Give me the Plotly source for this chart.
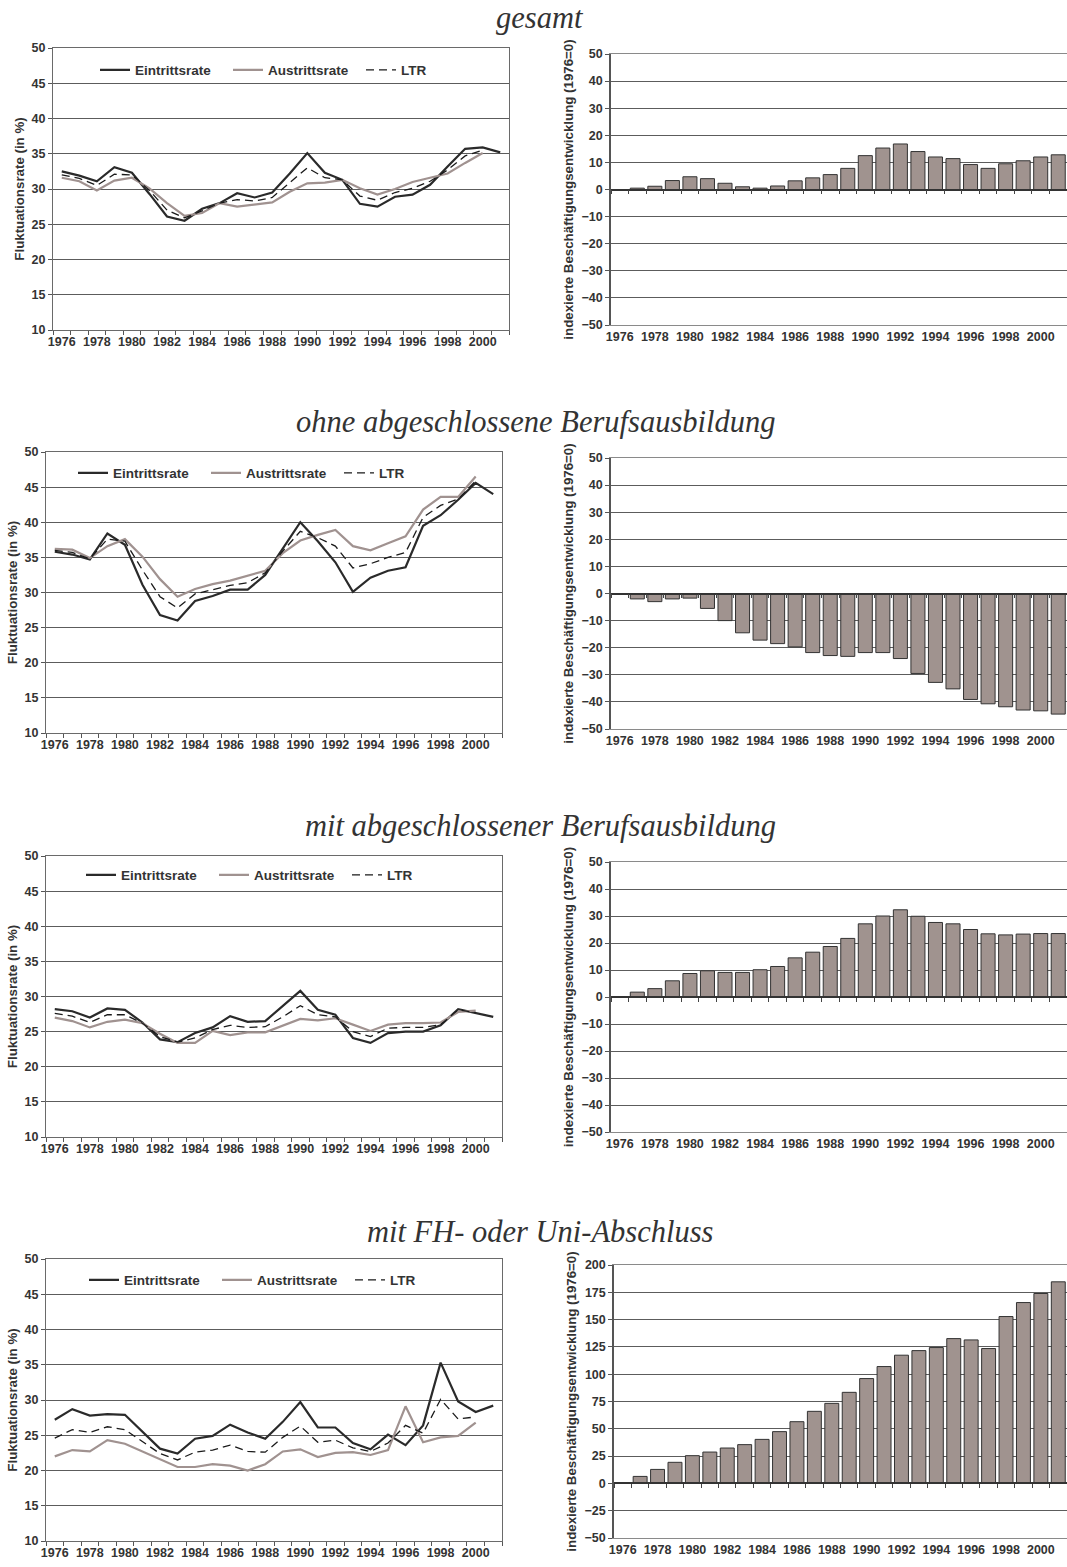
import plotly.graph_objects as go

W, H = 1067, 1567

years = list(range(1976, 2002))          # 26 categories
years_short = list(range(1976, 2001))    # 25 categories (Austritt / LTR)
tick_years = list(range(1976, 2001, 2))

panel_titles = [
    "gesamt",
    "ohne abgeschlossene Berufsausbildung",
    "mit abgeschlossener Berufsausbildung",
    "mit FH- oder Uni-Abschluss",
]

# ---------- gesamt ----------
ein_gesamt = [32.5, 31.9, 31.1, 33.1, 32.3, 29.3, 26.1, 25.5, 27.2, 28.0, 29.4, 28.8, 29.5,
              32.2, 35.1, 32.3, 31.3, 27.9, 27.5, 28.9, 29.2, 30.6, 33.2, 35.7, 35.9, 35.2]
aus_gesamt = [31.6, 31.1, 29.8, 31.2, 31.6, 30.1, 28.0, 26.2, 26.6, 28.0, 27.5, 27.8, 28.1,
              29.6, 30.8, 30.9, 31.3, 30.1, 29.2, 30.0, 31.0, 31.6, 32.2, 33.7, 35.1]
ltr_gesamt = [32.0, 31.5, 30.5, 32.1, 32.0, 29.8, 27.0, 25.9, 26.9, 28.0, 28.5, 28.3, 28.8,
              30.9, 33.0, 31.6, 31.3, 29.0, 28.4, 29.5, 30.1, 31.1, 32.7, 34.7, 35.5]
bes_gesamt = [0.0, 0.5, 1.2, 3.3, 4.7, 4.0, 2.3, 1.0, 0.5, 1.3, 3.2, 4.3, 5.5,
              7.8, 12.5, 15.3, 16.8, 14.0, 12.0, 11.4, 9.2, 7.8, 9.5, 10.6, 12.0, 12.8]

# ---------- ohne abgeschlossene Berufsausbildung ----------
ein_ohne = [35.8, 35.4, 34.7, 38.4, 36.8, 31.1, 26.8, 26.0, 28.8, 29.5, 30.4, 30.4, 32.5,
            36.3, 40.0, 37.3, 34.3, 30.1, 32.1, 33.1, 33.6, 39.5, 41.0, 43.2, 45.6, 44.0]
aus_ohne = [36.2, 36.1, 34.9, 36.6, 37.6, 35.1, 31.9, 29.4, 30.5, 31.2, 31.7, 32.4, 33.1,
            35.6, 37.4, 38.2, 38.9, 36.6, 36.0, 37.0, 38.0, 41.8, 43.6, 43.6, 46.5]
ltr_ohne = [36.0, 35.7, 34.8, 37.6, 37.3, 33.2, 29.4, 27.8, 29.8, 30.4, 31.0, 31.4, 32.8,
            35.9, 38.7, 37.8, 36.6, 33.5, 34.1, 35.0, 35.7, 40.7, 42.4, 43.3, 45.9]
bes_ohne = [0.0, -2.0, -3.0, -2.0, -1.7, -5.5, -10.0, -14.5, -17.2, -18.5, -19.7, -21.8, -22.9,
            -23.2, -21.8, -21.8, -24.0, -29.5, -32.8, -35.2, -39.1, -40.7, -41.8, -43.0, -43.3, -44.5]

# ---------- mit abgeschlossener Berufsausbildung ----------
ein_mit = [28.2, 27.9, 27.0, 28.3, 28.1, 26.3, 23.9, 23.5, 24.8, 25.6, 27.2, 26.4, 26.5,
           28.6, 30.8, 28.1, 27.4, 24.1, 23.4, 24.8, 25.0, 25.0, 25.9, 28.2, 27.6, 27.1]
aus_mit = [27.0, 26.5, 25.6, 26.4, 26.7, 26.2, 24.7, 23.4, 23.4, 25.1, 24.5, 24.9, 24.9,
           25.8, 26.8, 26.6, 26.9, 26.0, 25.1, 26.0, 26.2, 26.2, 26.3, 27.8, 28.0]
ltr_mit = [27.6, 27.2, 26.3, 27.4, 27.4, 26.2, 24.3, 23.5, 24.1, 25.3, 25.9, 25.6, 25.7,
           27.1, 28.7, 27.4, 27.1, 25.0, 24.3, 25.5, 25.6, 25.6, 26.0, 28.1, 27.7]
bes_mit = [0.0, 1.8, 3.1, 6.0, 8.7, 9.7, 9.1, 9.1, 10.1, 11.3, 14.5, 16.6, 18.7,
           21.7, 27.1, 30.0, 32.3, 29.9, 27.6, 27.1, 25.0, 23.4, 23.0, 23.3, 23.5, 23.5]

# ---------- mit FH- oder Uni-Abschluss ----------
ein_fh = [27.2, 28.7, 27.8, 28.0, 27.9, 25.5, 23.1, 22.4, 24.5, 24.9, 26.5, 25.4, 24.5,
          26.9, 29.7, 26.1, 26.1, 23.9, 23.0, 25.1, 23.6, 26.4, 35.3, 29.8, 28.3, 29.2]
aus_fh = [22.0, 22.9, 22.7, 24.3, 23.8, 22.7, 21.7, 20.5, 20.5, 20.9, 20.7, 20.0, 20.9,
          22.7, 23.0, 21.9, 22.5, 22.6, 22.2, 22.9, 29.1, 24.0, 24.7, 24.9, 26.8]
ltr_fh = [24.6, 25.8, 25.4, 26.2, 25.8, 24.1, 22.4, 21.5, 22.6, 22.9, 23.6, 22.7, 22.6,
          24.7, 26.3, 24.0, 24.3, 23.2, 22.7, 23.9, 26.4, 25.3, 30.1, 27.3, 27.6]
bes_fh = [0.0, 6.4, 12.8, 19.3, 25.4, 28.7, 32.4, 35.5, 40.3, 47.4, 56.5, 66.0, 73.3,
          83.4, 96.0, 107.0, 117.4, 121.6, 124.4, 132.6, 131.4, 123.5, 152.8, 165.6, 173.9, 184.6]

ein_all = [ein_gesamt, ein_ohne, ein_mit, ein_fh]
aus_all = [aus_gesamt, aus_ohne, aus_mit, aus_fh]
ltr_all = [ltr_gesamt, ltr_ohne, ltr_mit, ltr_fh]
bes_all = [bes_gesamt, bes_ohne, bes_mit, bes_fh]

left_range = [10, 50]
right_ranges = [[-50, 50], [-50, 50], [-50, 50], [-50, 200]]
right_dticks = [10, 10, 10, 25]

series_names = ["Eintrittsrate", "Austrittsrate", "LTR"]
left_title = "Fluktuationsrate (in %)"
right_title = "indexierte Beschäftigungsentwicklung (1976=0)"

# ---------- layout geometry (pixels) ----------
left_boxes = [(53, 509, 48, 330), (46, 502, 452, 733), (46, 502, 856, 1137), (46, 502, 1259, 1541)]
right_boxes = [(611, 1067, 54, 325), (611, 1067, 458, 729), (611, 1067, 862, 1132), (614, 1067, 1265, 1538)]
title_pos = [(540, 18), (535, 422), (540, 826), (540, 1232)]
legend_pos = [(95, 70), (73, 473), (81, 875), (84, 1280)]

FONT = "Liberation Sans, Arial, sans-serif"
TXT = "#333333"
GRID = "#5c5c5c"
EIN_C = "#2a2a2a"
AUS_C = "#a09290"
BAR_C = "#a0938f"

def xd(x0, x1):
    return [x0 / W, min(x1 / W, 1.0)]

def yd(top, bot):
    return [1 - bot / H, 1 - top / H]

def sfx(n):
    return "" if n == 1 else str(n)

fig = go.Figure()
layout = dict(
    width=W, height=H,
    margin=dict(l=0, r=0, t=0, b=0, autoexpand=False),
    paper_bgcolor="white", plot_bgcolor="white",
    bargap=0.2,
    annotations=[],
)

tickfont = dict(family=FONT, size=12.5, color=TXT, weight="bold")
titlefont = dict(family=FONT, size=13.3, color=TXT, weight="bold")

for i in range(4):
    lx, ly = 2 * i + 1, 2 * i + 1
    rx, ry = 2 * i + 2, 2 * i + 2
    zx = 9 + i
    lname = "legend" if i == 0 else f"legend{i + 1}"

    # ---- left line panel ----
    fig.add_trace(go.Scatter(x=years, y=ein_all[i], mode="lines", name=series_names[0],
                             line=dict(color=EIN_C, width=2.2), xaxis=f"x{sfx(lx)}", yaxis=f"y{sfx(ly)}",
                             legend=lname))
    fig.add_trace(go.Scatter(x=years_short, y=aus_all[i], mode="lines", name=series_names[1],
                             line=dict(color=AUS_C, width=2.2), xaxis=f"x{sfx(lx)}", yaxis=f"y{sfx(ly)}",
                             legend=lname))
    fig.add_trace(go.Scatter(x=years_short, y=ltr_all[i], mode="lines", name=series_names[2],
                             line=dict(color="#1a1a1a", width=1.3, dash="8px,5px"),
                             xaxis=f"x{sfx(lx)}", yaxis=f"y{sfx(ly)}", legend=lname))

    b = left_boxes[i]
    layout[f"xaxis{sfx(lx)}"] = dict(
        domain=xd(b[0], b[1]), anchor=f"y{sfx(ly)}", range=[1975.5, 2001.5], automargin=False,
        tickmode="array", tickvals=tick_years, ticktext=[str(v) for v in tick_years],
        ticks="", showgrid=False, zeroline=False, showline=True, linecolor="#6a6a6a",
        linewidth=1, mirror=True, tickfont=tickfont,
        minor=dict(tickmode="linear", tick0=1975.5, dtick=1, ticks="outside", ticklen=4,
                   tickcolor="#555", tickwidth=1, showgrid=False),
    )
    layout[f"yaxis{sfx(ly)}"] = dict(
        domain=yd(b[2], b[3]), anchor=f"x{sfx(lx)}", range=left_range, dtick=5, automargin=False,
        showgrid=True, gridcolor=GRID, gridwidth=1, zeroline=False,
        showline=True, linecolor="#6a6a6a", linewidth=1, mirror=True,
        ticks="outside", ticklen=4, tickcolor="#555", tickfont=tickfont,
        title=dict(text=left_title, font=titlefont, standoff=3),
    )

    # ---- right bar panel ----
    fig.add_trace(go.Bar(x=years, y=bes_all[i], marker=dict(color=BAR_C, line=dict(color="#333", width=1)),
                         xaxis=f"x{sfx(rx)}", yaxis=f"y{sfx(ry)}", showlegend=False))
    rb = right_boxes[i]
    rr = right_ranges[i]
    layout[f"xaxis{sfx(rx)}"] = dict(
        domain=xd(rb[0], rb[1]), anchor=f"y{sfx(ry)}", range=[1975.5, 2001.5], automargin=False,
        tickmode="array", tickvals=tick_years, ticktext=[str(v) for v in tick_years],
        ticks="", showgrid=False, zeroline=False, showline=True, linecolor="#8a8a8a",
        linewidth=1, mirror=True, tickfont=tickfont,
    )
    layout[f"yaxis{sfx(ry)}"] = dict(
        domain=yd(rb[2], rb[3]), anchor=f"x{sfx(rx)}", range=rr, dtick=right_dticks[i], automargin=False,
        showgrid=True, gridcolor=GRID, gridwidth=1, zeroline=False,
        showline=True, linecolor="#555", linewidth=1.5,
        ticks="outside", ticklen=4, tickcolor="#555", tickfont=tickfont,
        title=dict(text=right_title, font=titlefont, standoff=5),
    )
    ydom = yd(rb[2], rb[3])
    zero_pos = ydom[0] + (0 - rr[0]) / (rr[1] - rr[0]) * (ydom[1] - ydom[0])
    layout[f"xaxis{zx}"] = dict(
        overlaying=f"x{sfx(rx)}", anchor="free", position=zero_pos, range=[1975.5, 2001.5],
        automargin=False,
        showticklabels=False, ticks="", showgrid=False, zeroline=False,
        showline=True, linecolor="#333", linewidth=1.5,
        minor=dict(tickmode="linear", tick0=1975.5, dtick=1, ticks="outside", ticklen=4,
                   tickcolor="#444", tickwidth=1, showgrid=False),
    )
    # invisible helper trace so that the zero-line category axis is drawn
    fig.add_trace(go.Scatter(x=[years[0]], y=[rr[0]], mode="markers", marker=dict(opacity=0),
                             xaxis=f"x{zx}", yaxis=f"y{sfx(ry)}", showlegend=False, hoverinfo="skip"))

    lp = legend_pos[i]
    layout[lname] = dict(
        orientation="h", x=lp[0] / W, y=1 - lp[1] / H, xanchor="left", yanchor="middle",
        xref="paper", yref="paper", bgcolor="rgba(0,0,0,0)",
        font=dict(family=FONT, size=13.5, color=TXT, weight="bold"),
        entrywidth=88, entrywidthmode="pixels", itemwidth=30, tracegroupgap=0,
    )

    tp = title_pos[i]
    layout["annotations"].append(dict(
        text=panel_titles[i], x=tp[0] / W, y=1 - tp[1] / H, xref="paper", yref="paper",
        xanchor="center", yanchor="middle", showarrow=False,
        font=dict(family="Liberation Serif, Times New Roman, serif", size=30.5, color=TXT, style="italic"),
    ))

fig.update_layout(**layout)
fig.write_html(
    "out.html",
    config={"displayModeBar": False},
    post_script="document.body.style.margin='0';document.body.style.overflow='hidden';",
)
